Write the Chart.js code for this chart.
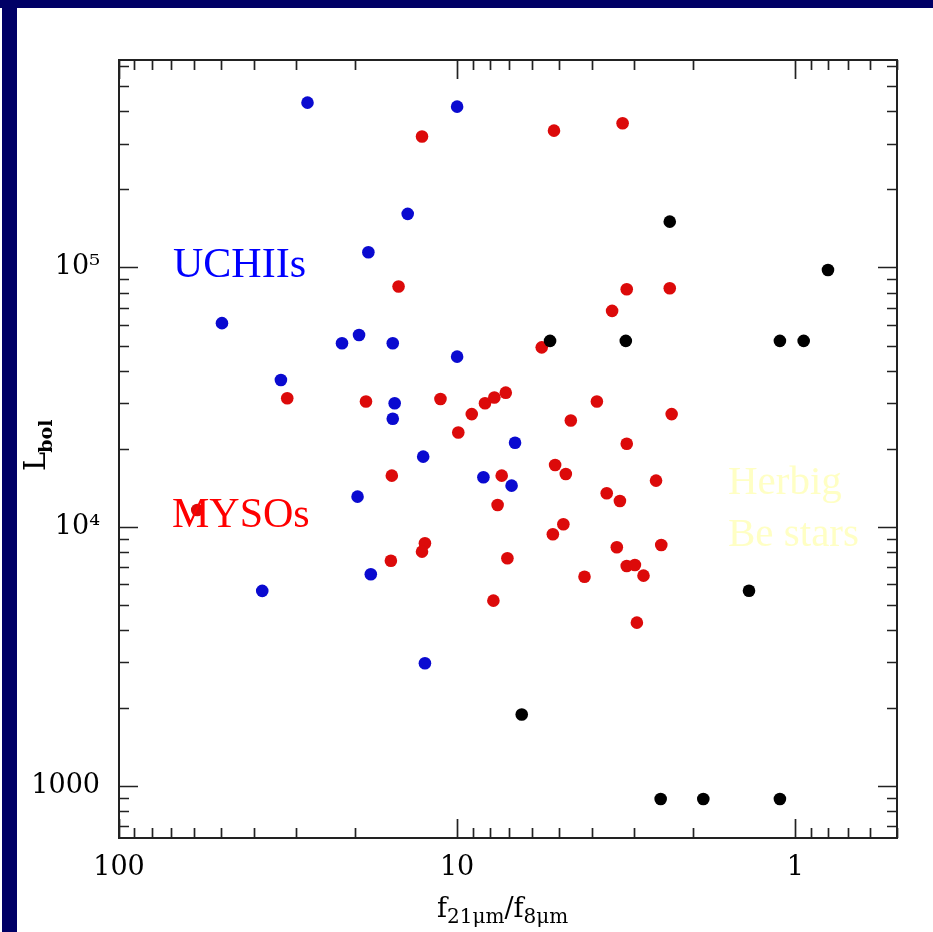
<!DOCTYPE html>
<html>
<head>
<meta charset="utf-8">
<script src="https://cdn.jsdelivr.net/npm/chart.js@4.4.1/dist/chart.umd.min.js"></script>
<style>
  html, body { margin: 0; padding: 0; background: #fff; }
  #wrap { position: relative; width: 933px; height: 932px; overflow: hidden; }
  #plot { position: absolute; left: 0; top: 0; }
  .band { position: absolute; background: #000066; }
</style>
</head>
<body>
<div id="wrap">
  <canvas id="plot" width="933" height="932"></canvas>
  <div class="band" style="left:0;top:0;width:933px;height:8px"></div>
  <div class="band" style="left:2px;top:0;width:15px;height:932px"></div>
</div>
<script>
// flux ratio f21/f8 (x) against bolometric luminosity (y)
const uchiiRatio = [27.7, 10.0, 14.0, 18.3, 49.6, 21.9, 19.5, 15.5, 10.0, 33.2,
  15.3, 15.5, 6.74, 12.6, 8.36, 6.90, 19.7, 18.0, 37.7, 12.45];
const uchiiLbol = [432000, 417000, 161000, 114500, 61000, 51000, 54900, 51000, 45300, 36800,
  29950, 26100, 21100, 18640, 15530, 14410, 13070, 6560, 5660, 2976];

const mysoRatio = [12.7, 5.17, 3.24, 14.9, 3.15, 2.35, 3.48, 5.62, 31.8, 18.6,
  11.2, 8.27, 7.76, 7.18, 9.05, 3.86, 4.61, 9.92, 3.15, 2.32,
  15.6, 7.38, 5.13, 4.77, 3.61, 3.30, 2.58, 7.59, 58.7, 4.85,
  5.21, 12.45, 12.7, 15.7, 7.10, 3.37, 3.15, 2.98, 2.81, 4.20,
  2.49, 7.81, 2.94];
const mysoLbol = [320000, 337000, 360000, 84400, 82400, 83200, 68000, 49200, 31300, 30400,
  31100, 29950, 31500, 32900, 27200, 30400, 25700, 23100, 20900, 27200,
  15750, 15750, 17320, 15990, 13470, 12580, 15070, 12140, 11610, 10230,
  9360, 8640, 8020, 7400, 7560, 8340, 7060, 7125, 6480, 6420,
  8510, 5190, 4270];

const herbigRatio = [2.35, 0.80, 5.31, 3.17, 1.11, 0.944, 1.37, 6.44, 2.50, 1.87, 1.11];
const herbigLbol = [150200, 97800, 52100, 52100, 52100, 52100, 5670, 1890, 892, 892, 892];

const xTickValues = [100, 10, 1];
const xTickLabels = ['100', '10', '1'];
const yTickValues = [1000, 1e4, 1e5];
const yTickLabels = ['1000', '10⁴', '10⁵'];

function toPoints(xs, ys) {
  return xs.map((v, i) => ({ x: v, y: ys[i] }));
}

// closed box with inward ticks on all four sides, plus the class labels
const boxPlugin = {
  id: 'box',
  afterDatasetsDraw(chart) {
    const { ctx, chartArea: a, scales: { x, y } } = chart;
    ctx.save();
    ctx.strokeStyle = '#222';
    ctx.lineWidth = 2;
    ctx.strokeRect(a.left, a.top, a.right - a.left, a.bottom - a.top);

    ctx.lineWidth = 1.7;
    ctx.beginPath();
    for (let e = -1; e <= 2; e++) {
      for (let m = 1; m <= 9; m++) {
        const v = m * Math.pow(10, e);
        if (v < x.min || v > x.max) continue;
        const px = Math.round(x.getPixelForValue(v)) + 0.5;
        const len = m === 1 ? 19 : 10;
        ctx.moveTo(px, a.bottom); ctx.lineTo(px, a.bottom - len);
        ctx.moveTo(px, a.top); ctx.lineTo(px, a.top + len);
      }
    }
    for (let e = 2; e <= 5; e++) {
      for (let m = 1; m <= 9; m++) {
        const v = m * Math.pow(10, e);
        if (v < y.min || v > y.max) continue;
        const py = Math.round(y.getPixelForValue(v)) + 0.5;
        const len = m === 1 ? 19 : 10;
        ctx.moveTo(a.left, py); ctx.lineTo(a.left + len, py);
        ctx.moveTo(a.right, py); ctx.lineTo(a.right - len, py);
      }
    }
    ctx.stroke();

    ctx.textBaseline = 'alphabetic';
    ctx.textAlign = 'left';
    ctx.font = '42px "Liberation Serif"';
    ctx.fillStyle = '#0000ff';
    ctx.fillText('UCHIIs', 173, 277);
    ctx.fillStyle = '#ff0000';
    ctx.fillText('MYSOs', 172, 527);
    ctx.font = '41px "Liberation Serif"';
    ctx.fillStyle = '#ffffc4';
    ctx.fillText('Herbig', 728, 494);
    ctx.fillText('Be stars', 728, 546);
    ctx.restore();
  },
  afterDraw(chart) {
    const { ctx } = chart;
    ctx.save();
    ctx.fillStyle = '#000';
    ctx.textBaseline = 'alphabetic';
    ctx.textAlign = 'left';

    // x title: f_21um / f_8um
    const big = '27px "DejaVu Serif"';
    const small = '20px "DejaVu Serif"';
    let cx = 437;
    const base = 917, subBase = 923;
    const put = (txt, font, yb) => {
      ctx.font = font;
      ctx.fillText(txt, cx, yb);
      cx += ctx.measureText(txt).width;
    };
    put('f', big, base);
    put('21μm', small, subBase);
    put('/', big, base);
    put('f', big, base);
    put('8μm', small, subBase);

    // y title: L_bol, rotated
    ctx.translate(45, 471);
    ctx.rotate(-Math.PI / 2);
    ctx.font = '29px "DejaVu Serif"';
    ctx.fillText('L', 0, 0);
    const w = ctx.measureText('L').width;
    ctx.font = 'bold 19px "DejaVu Serif"';
    ctx.fillText('bol', w - 1, 7);
    ctx.restore();
  }
};

const ctx = document.getElementById('plot').getContext('2d');

new Chart(ctx, {
  type: 'scatter',
  data: {
    datasets: [
      {
        label: 'Herbig Be stars',
        data: toPoints(herbigRatio, herbigLbol),
        backgroundColor: '#000000',
        order: 0
      },
      {
        label: 'UCHIIs',
        data: toPoints(uchiiRatio, uchiiLbol),
        backgroundColor: '#0a0ad0',
        order: 1
      },
      {
        label: 'MYSOs',
        data: toPoints(mysoRatio, mysoLbol),
        backgroundColor: '#dc0a0a',
        order: 2
      }
    ]
  },
  options: {
    responsive: false,
    animation: false,
    events: [],
    layout: { padding: { top: 60, right: 36, bottom: 0, left: 0 } },
    elements: { point: { radius: 6.3, borderWidth: 0, pointStyle: 'circle' } },
    plugins: { legend: { display: false }, tooltip: { enabled: false } },
    scales: {
      x: {
        type: 'logarithmic',
        reverse: true,
        min: 0.5,
        max: 100,
        grid: { display: false, drawTicks: false },
        border: { display: false },
        afterBuildTicks: (scale) => { scale.ticks = xTickValues.map(v => ({ value: v })); },
        afterFit: (scale) => { scale.height = 94; },
        ticks: {
          autoSkip: false,
          maxRotation: 0,
          padding: 14,
          color: '#000',
          font: { family: 'DejaVu Serif', size: 27 },
          callback: (value, index) => xTickLabels[index]
        }
      },
      y: {
        type: 'logarithmic',
        min: Math.pow(10, 2.8),
        max: Math.pow(10, 5.8),
        grid: { display: false, drawTicks: false },
        border: { display: false },
        afterBuildTicks: (scale) => { scale.ticks = yTickValues.map(v => ({ value: v })); },
        afterFit: (scale) => { scale.width = 119; },
        ticks: {
          autoSkip: false,
          padding: 19,
          color: '#000',
          font: { family: 'DejaVu Serif', size: 27 },
          callback: (value, index) => yTickLabels[index]
        }
      }
    }
  },
  plugins: [boxPlugin]
});
</script>
</body>
</html>
